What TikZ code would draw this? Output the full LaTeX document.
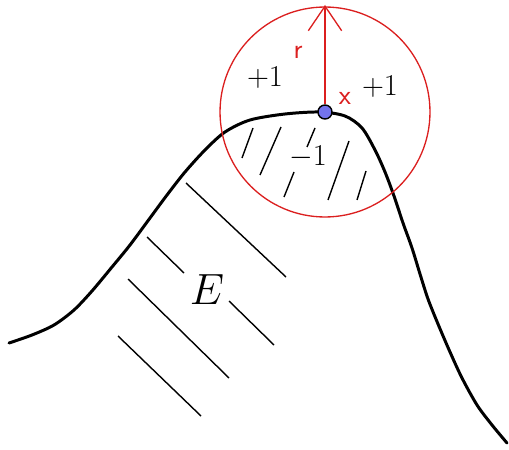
\documentclass[tikz,border=0pt]{standalone}
\usepackage{amsmath}
\usepackage{tikz}
\usetikzlibrary{arrows.meta,calc,positioning}
\definecolor{ballred}{rgb}{0.86, 0.12, 0.12}
\definecolor{dotblue}{rgb}{0.45, 0.45, 0.93}
\tikzset{
  boundary/.style={
    line width=1.7pt,
    black,
    line join=round,
    line cap=round
  },
  hatch/.style={
    line width=0.8pt,
    black
  },
  ball/.style={
    draw=ballred,
    line width=0.75pt
  },
  radius arrow/.style={
    -{Straight Barb[length=14pt,width=19pt]},
    line width=0.75pt,
    ballred
  },
  dot/.style={
    circle,
    draw=black,
    fill=dotblue,
    line width=0.8pt,
    minimum size=0.28cm,
    inner sep=0pt
  },
  sign/.style={
    font=\fontsize{17}{19}\selectfont,
    inner sep=1pt
  },
  redlabel/.style={
    font=\sffamily\fontsize{16}{18}\selectfont,
    text=ballred,
    inner sep=1pt
  }
}

\begin{document}
\begin{tikzpicture}[x=0.02cm,y=-0.02cm]
\useasboundingbox (0,0) rectangle (509,449);
\draw[boundary] plot[smooth] coordinates {
  (9,343) (32,335) (54,325) (74,310) (92,291) (112,267) (130,245) (150,218)
  (167,195) (185,172) (205,150) (225,132) (250,120) (285,114) (320,112)
  (345,116) (362,128) (375,150) (385,172) (394,196) (403,223) (412,248)
  (420,274) (428,299) (438,324) (450,352) (462,378) (477,405) (492,425)
  (507,443)};
\draw[hatch] (242,158) -- (253,128);
\draw[hatch] (260,175) -- (281,127);
\draw[hatch] (307,147) -- (315,128);
\draw[hatch] (284,197) -- (294,172);
\draw[hatch] (328,200) -- (349,141);
\draw[hatch] (357,200) -- (366,171);
\draw[hatch] (186,183) -- (286,277);
\draw[hatch] (147,237) -- (184,273);
\draw[hatch] (229,301) -- (274,345);
\draw[hatch] (128,279) -- (229,378);
\draw[hatch] (118,336) -- (201,416);
\node[dot] (x) at (325,112) {};
\draw[ball] (x.center) circle[radius=2.1cm];
\coordinate (top) at (325,5);
\draw[radius arrow] (x) -- (top);
\node[redlabel] (r) at (298,52) {r};
\node[redlabel] (xlbl) at (345,98) {x};
\node[sign] (plusl) at (265,78) {$+1$};
\node[sign] (plusr) at (380,87) {$+1$};
\node[sign] (minus) at (308,157) {$-1$};
\node[font=\fontsize{27}{30}\selectfont] (setE) at (207,290) {$E$};
\end{tikzpicture}
\end{document}
